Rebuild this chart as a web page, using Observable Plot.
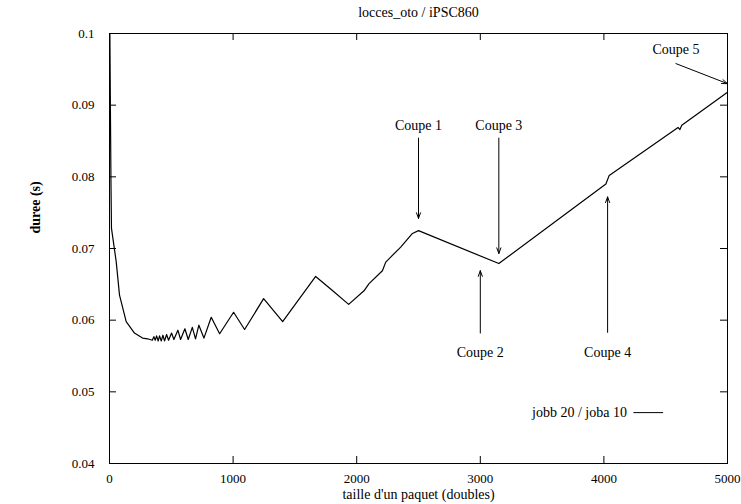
<!DOCTYPE html>
<html><head><meta charset="utf-8">
<script src="https://cdn.jsdelivr.net/npm/d3@7"></script>
<script src="https://cdn.jsdelivr.net/npm/@observablehq/plot@0.6"></script>
<style>html,body{margin:0;padding:0;background:#fff} svg{display:block}</style>
</head><body><div id="chart"></div>
<script>
const title = "locces_oto / iPSC860";
const xLabel = "taille d'un paquet (doubles)";
const yLabel = "duree (s)";
const seriesName = "jobb 20 / joba 10";
const xTicks = [0, 1000, 2000, 3000, 4000, 5000];
const yTicks = [0.04, 0.05, 0.06, 0.07, 0.08, 0.09, 0.1];

const paquet = [3, 8, 12, 16, 54, 81, 135, 202, 267, 308, 346, 359, 370, 381, 394, 405, 419, 432, 445, 462, 478, 502, 521, 553, 575, 610, 637, 670, 696, 723, 764, 823, 891, 1004, 1093, 1247, 1401, 1668, 1806, 1935, 2059, 2100, 2208, 2235, 2275, 2356, 2451, 2500, 3150, 4016, 4043, 4600, 4615, 4630, 5000];
const duree = [0.1, 0.088, 0.079, 0.0728, 0.0682, 0.0635, 0.0598, 0.0582, 0.0575, 0.0574, 0.0572, 0.0577, 0.0572, 0.0578, 0.0571, 0.0578, 0.0571, 0.0579, 0.0571, 0.0580, 0.0572, 0.0582, 0.0573, 0.0586, 0.0573, 0.0588, 0.0573, 0.0590, 0.0574, 0.0593, 0.0575, 0.0604, 0.0581, 0.0611, 0.0587, 0.0630, 0.0598, 0.0661, 0.0641, 0.0622, 0.0641, 0.0651, 0.0669, 0.0681, 0.0688, 0.0702, 0.0721, 0.0725, 0.0679, 0.0790, 0.0802, 0.0869, 0.0866, 0.0872, 0.0918];

const coupeNames = ["Coupe 1", "Coupe 2", "Coupe 3", "Coupe 4", "Coupe 5"];
const coupeTextX = [2500, 3000, 3150, 4030, 4583];
const coupeTextY = [0.0872, 0.0555, 0.0872, 0.0555, 0.0978];
const arrowFromX = [2500, 3000, 3150, 4030, 4583];
const arrowFromY = [0.0854, 0.0582, 0.0854, 0.0583, 0.0958];
const arrowToX = [2500, 3000, 3150, 4030, 5000];
const arrowToY = [0.0742, 0.0669, 0.0693, 0.0772, 0.0930];

const legendTextX = [4186];
const legendY = [0.0471];
const legendLineX = [4243, 4483];

const series = paquet.map((x, i) => ({x, y: duree[i]}));
const coupes = coupeNames.map((name, i) => ({
  name, tx: coupeTextX[i], ty: coupeTextY[i],
  x1: arrowFromX[i], y1: arrowFromY[i], x2: arrowToX[i], y2: arrowToY[i]
}));

const W = 741, H = 504, mL = 109, mR = 14, mT = 33, mB = 41;
const fw = W - mL - mR, fh = H - mT - mB, tk = 7;
const font = "Liberation Serif, Times New Roman, serif";

const chart = Plot.plot({
  width: W, height: H,
  marginLeft: mL, marginRight: mR, marginTop: mT, marginBottom: mB,
  style: {fontFamily: font, fontSize: "13px", color: "black", background: "white"},
  x: {domain: [0, 5000], label: null},
  y: {domain: [0.04, 0.1], label: null},
  marks: [
    Plot.frame({stroke: "black", strokeWidth: 1}),
    Plot.ruleX(xTicks, {x: d => d, insetTop: fh - tk, stroke: "black"}),
    Plot.ruleX(xTicks, {x: d => d, insetBottom: fh - tk, stroke: "black"}),
    Plot.ruleY(yTicks, {y: d => d, insetRight: fw - tk, stroke: "black"}),
    Plot.ruleY(yTicks, {y: d => d, insetLeft: fw - tk, stroke: "black"}),
    Plot.axisX({ticks: xTicks, tickSize: 0, tickPadding: 10, fontSize: 13, tickFormat: d => String(d)}),
    Plot.axisY({ticks: yTicks, tickSize: 0, tickPadding: 15, fontSize: 13, tickFormat: d => String(+d.toFixed(2))}),
    Plot.line(series, {x: "x", y: "y", stroke: "black", strokeWidth: 1.2}),
    Plot.arrow(coupes, {x1: "x1", y1: "y1", x2: "x2", y2: "y2", stroke: "black", strokeWidth: 1, headLength: 9, headAngle: 40}),
    Plot.text(coupes, {x: "tx", y: "ty", text: "name", fontSize: 14, lineAnchor: "middle", fill: "black"}),
    Plot.text([seriesName], {x: legendTextX[0], y: legendY[0], text: d => d, textAnchor: "end", fontSize: 14, lineAnchor: "middle", fill: "black"}),
    Plot.ruleY(legendY, {y: d => d, x1: legendLineX[0], x2: legendLineX[1], stroke: "black", strokeWidth: 1}),
    Plot.text([title], {frameAnchor: "top", dy: -21, text: d => d, fontSize: 14, lineAnchor: "middle", fill: "black"}),
    Plot.text([xLabel], {frameAnchor: "bottom", dy: 31, text: d => d, fontSize: 14, lineAnchor: "middle", fill: "black"}),
    Plot.text([yLabel], {frameAnchor: "left", dx: -74, dy: -15, rotate: -90, text: d => d, fontSize: 14, fontWeight: "bold", lineAnchor: "middle", fill: "black"})
  ]
});
document.getElementById("chart").appendChild(chart);
</script>
</body></html>
